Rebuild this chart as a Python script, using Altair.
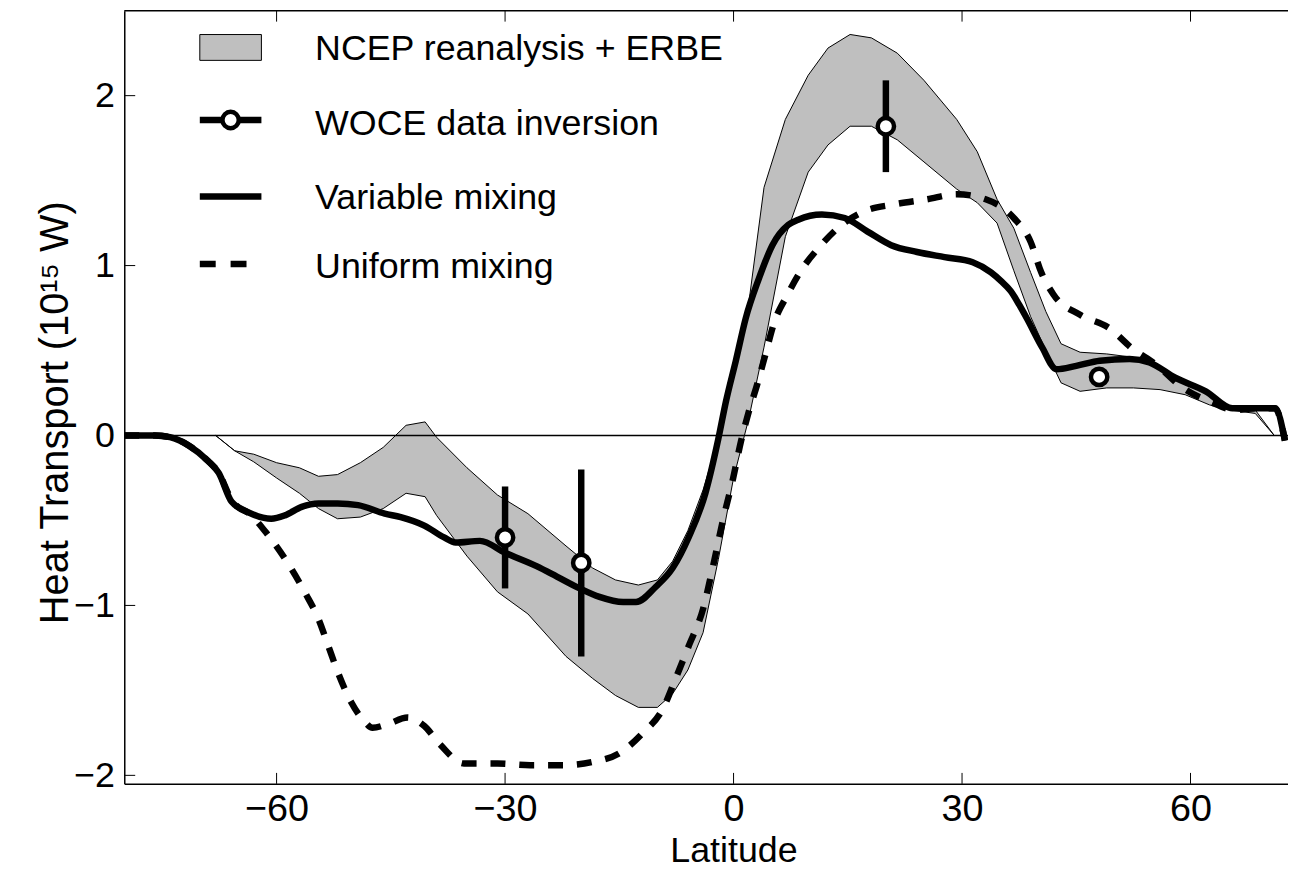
import altair as alt
import pandas as pd

# ---------------- data ----------------
band_lat = [-68, -65.5, -63, -60, -57, -54.5, -52, -49, -46, -43, -40.5, -39, -35, -31, -27, -22,
            -18.5, -15.5, -12.5, -10, -8, -6, -4, -2, 0, 2, 4, 6.8, 9.8, 12.4, 15.3, 18.1, 21.5,
            25, 29.3, 32, 34.6, 36.8, 39, 41, 43, 45.5, 49, 52.5, 56, 59.3, 62.5, 65.2, 68.5, 71]
band_upper = [0.0, -0.09, -0.11, -0.16, -0.19, -0.24, -0.23, -0.16, -0.07, 0.06, 0.08, -0.01, -0.19,
              -0.35, -0.46, -0.65, -0.78, -0.85, -0.88, -0.85, -0.74, -0.56, -0.32, -0.02, 0.35,
              0.78, 1.46, 1.86, 2.12, 2.28, 2.36, 2.34, 2.25, 2.09, 1.86, 1.67, 1.39, 1.22, 0.96,
              0.73, 0.54, 0.49, 0.48, 0.46, 0.40, 0.30, 0.25, 0.16, 0.15, 0.0]
band_lower = [0.0, -0.09, -0.155, -0.25, -0.34, -0.43, -0.49, -0.48, -0.43, -0.34, -0.36, -0.47,
              -0.71, -0.92, -1.05, -1.30, -1.43, -1.53, -1.60, -1.60, -1.52, -1.38, -1.16, -0.73,
              -0.25, 0.10, 0.52, 1.17, 1.55, 1.71, 1.82, 1.82, 1.74, 1.61, 1.45, 1.37, 1.25, 0.97,
              0.70, 0.50, 0.31, 0.26, 0.28, 0.28, 0.27, 0.24, 0.18, 0.15, 0.13, 0.0]

var_lat = [-80, -76, -74, -71.5, -69, -67.6, -65.9, -63.3, -60.7, -58.9, -56.7, -54.5, -52, -49.3,
           -45.8, -43.7, -40.6, -38, -36.5, -33.3, -30, -25.8, -23.2, -20.2, -17.6, -14.5, -12.8,
           -10.2, -8, -5.9, -3.7, -2, -1, 0.3, 1.6, 3.3, 5.1, 7.2, 8.5, 11.6, 14.6, 17.6, 20.7,
           24.1, 27.7, 31.4, 33.8, 35.1, 36.4, 37.5, 38.5, 40.5, 42.4, 45, 48.1, 52, 54.6, 58, 62,
           65.5, 68.5, 71.1, 72.4]
var_val = [0.0, 0.0, -0.01, -0.06, -0.15, -0.22, -0.39, -0.46, -0.49, -0.47, -0.42, -0.40, -0.40,
           -0.41, -0.46, -0.48, -0.53, -0.60, -0.63, -0.62, -0.69, -0.77, -0.83, -0.90, -0.95,
           -0.98, -0.98, -0.89, -0.78, -0.60, -0.34, -0.02, 0.20, 0.44, 0.69, 0.92, 1.12, 1.24,
           1.27, 1.30, 1.28, 1.20, 1.12, 1.08, 1.05, 1.02, 0.96, 0.91, 0.85, 0.77, 0.69, 0.52,
           0.39, 0.41, 0.44, 0.45, 0.43, 0.34, 0.26, 0.16, 0.16, 0.16, -0.03]

uni_lat = [-80, -76, -74, -71.5, -69, -67.6, -65.9, -63.3, -61.4, -58.4, -56.2, -54.5, -53.2,
           -51.9, -50.2, -48.5, -47.4, -45.5, -42.8, -40.6, -38.5, -35.4, -31, -26.7, -22.3,
           -18.4, -15, -11.9, -9.3, -7.6, -5.9, -4.0, -2.7, -1.4, -0.1, 1.0, 2.0, 3.1, 4.2, 5.3,
           7.1, 9.0, 11.1, 14.2, 17.2, 21.1, 25.4, 29.3, 33.1, 36.8, 39.0, 40.4, 42.0, 45.5,
           49.4, 52.4, 55.4, 59.0, 62.5, 65.9, 68.5, 71.1, 72.4]
uni_val = [0.0, 0.0, -0.01, -0.06, -0.15, -0.22, -0.38, -0.47, -0.57, -0.76, -0.93, -1.08, -1.24,
           -1.40, -1.57, -1.68, -1.72, -1.70, -1.66, -1.71, -1.82, -1.93, -1.93, -1.94, -1.94,
           -1.92, -1.87, -1.75, -1.61, -1.43, -1.24, -1.02, -0.77, -0.50, -0.26, -0.03, 0.14,
           0.30, 0.48, 0.66, 0.83, 0.98, 1.10, 1.24, 1.32, 1.36, 1.39, 1.42, 1.39, 1.28, 1.14,
           0.96, 0.83, 0.71, 0.63, 0.51, 0.42, 0.28, 0.20, 0.15, 0.16, 0.16, -0.03]

woce_lat = [-30, -20, 20, 48]
woce_val = [-0.60, -0.75, 1.82, 0.345]
woce_err = [0.30, 0.55, 0.27, 0.05]

x_ticks = [-60, -30, 0, 30, 60]
y_ticks = [-2, -1, 0, 1, 2]

legend_labels = ["NCEP reanalysis + ERBE", "WOCE data inversion", "Variable mixing", "Uniform mixing"]

# ---------------- layout ----------------
W, H = 1171, 778
FONT = "Liberation Sans"
GRAY = "#bfbfbf"
LW = 6.5
DASH = [15, 14]

xs = alt.Scale(domain=[-80, 72.8], nice=False, zero=False)
ys = alt.Scale(domain=[-2.05, 2.5], nice=False, zero=False)

band_df = pd.DataFrame({"lat": band_lat, "hi": band_upper, "lo": band_lower})
var_df = pd.DataFrame({"lat": var_lat, "v": var_val})
uni_df = pd.DataFrame({"lat": uni_lat, "v": uni_val})
woce_df = pd.DataFrame({"lat": woce_lat, "v": woce_val, "e": woce_err})
woce_df["lo"] = woce_df["v"] - woce_df["e"]
woce_df["hi"] = woce_df["v"] + woce_df["e"]
xt_df = pd.DataFrame({"lat": x_ticks})
yt_df = pd.DataFrame({"v": y_ticks})
one = pd.DataFrame({"k": [0]})
leg_df = pd.DataFrame({"label": legend_labels, "ty": [50, 125, 200, 269]})

x_axis = alt.Axis(values=x_ticks, format="d", ticks=False, grid=False, domain=True,
                  domainColor="black", domainWidth=1.5, labelFontSize=38, labelFont=FONT,
                  labelColor="black", labelPadding=7, labelFlush=False, title="Latitude",
                  titleFontSize=36, titleFont=FONT, titleFontWeight="normal", titleColor="black",
                  titleX=613, titleY=78, titleBaseline="alphabetic", titleAlign="center")
y_axis = alt.Axis(values=y_ticks, format="d", ticks=False, grid=False, domain=True,
                  domainColor="black", domainWidth=1.5, labelFontSize=36, labelFont=FONT,
                  labelColor="black", labelPadding=10, title="Heat Transport (10¹⁵ W)",
                  titleFontSize=40, titleFont=FONT, titleFontWeight="normal", titleColor="black",
                  titleX=-57, titleY=404, titleAngle=270, titleBaseline="alphabetic",
                  titleAlign="center")

band = alt.Chart(band_df).mark_area(fill=GRAY, stroke="black", strokeWidth=1, opacity=1).encode(
    x=alt.X("lat:Q", scale=xs, axis=x_axis),
    y=alt.Y("hi:Q", scale=ys, axis=y_axis),
    y2="lo:Q",
)

zero = alt.Chart(one).mark_rule(color="black", strokeWidth=1.5).encode(
    y=alt.Y("k:Q", scale=ys))

var_line = alt.Chart(var_df).mark_line(color="black", strokeWidth=LW, interpolate="monotone",
                                       strokeJoin="round", clip=True).encode(
    x=alt.X("lat:Q", scale=xs), y=alt.Y("v:Q", scale=ys))

uni_line = alt.Chart(uni_df).mark_line(color="black", strokeWidth=LW, interpolate="monotone",
                                       strokeDash=DASH, clip=True).encode(
    x=alt.X("lat:Q", scale=xs), y=alt.Y("v:Q", scale=ys))

err = alt.Chart(woce_df).mark_rule(color="black", strokeWidth=LW).encode(
    x=alt.X("lat:Q", scale=xs), y=alt.Y("lo:Q", scale=ys), y2="hi:Q")

pts = alt.Chart(woce_df).mark_point(shape="circle", filled=True, fill="white", stroke="black",
                                    strokeWidth=4.5, size=270, opacity=1).encode(
    x=alt.X("lat:Q", scale=xs), y=alt.Y("v:Q", scale=ys))

# frame: top border and inward ticks
top_border = alt.Chart(one).mark_rule(color="black", strokeWidth=1.5).encode(
    x=alt.value(0), x2=alt.value(W), y=alt.value(0))
xt_bottom = alt.Chart(xt_df).mark_rule(color="black", strokeWidth=1).encode(
    x=alt.X("lat:Q", scale=xs), y=alt.value(H - 11), y2=alt.value(H))
xt_top = alt.Chart(xt_df).mark_rule(color="black", strokeWidth=1).encode(
    x=alt.X("lat:Q", scale=xs), y=alt.value(0), y2=alt.value(11))
yt_left = alt.Chart(yt_df).mark_rule(color="black", strokeWidth=1).encode(
    y=alt.Y("v:Q", scale=ys), x=alt.value(0), x2=alt.value(11))

# legend (drawn inside the plot, top left)
leg_rect = alt.Chart(one).mark_rect(fill=GRAY, stroke="black", strokeWidth=1).encode(
    x=alt.value(76), x2=alt.value(138), y=alt.value(24), y2=alt.value(50))
leg_woce = alt.Chart(one).mark_rule(color="black", strokeWidth=LW).encode(
    x=alt.value(76), x2=alt.value(138), y=alt.value(110))
leg_woce_pt = alt.Chart(one).mark_point(shape="circle", filled=True, fill="white", stroke="black",
                                        strokeWidth=4.5, size=270, opacity=1).encode(
    x=alt.value(107), y=alt.value(110))
leg_var = alt.Chart(one).mark_rule(color="black", strokeWidth=LW).encode(
    x=alt.value(76), x2=alt.value(138), y=alt.value(187))
leg_uni = alt.Chart(one).mark_rule(color="black", strokeWidth=LW, strokeDash=[16, 15]).encode(
    x=alt.value(76), x2=alt.value(138), y=alt.value(255))
leg_text = alt.Chart(leg_df).mark_text(align="left", baseline="alphabetic", fontSize=36,
                                       font=FONT, color="black").encode(
    x=alt.value(192), y=alt.Y("ty:Q", scale=None), text="label:N")

chart = alt.layer(
    band, zero, var_line, uni_line, err, pts,
    top_border, xt_bottom, xt_top, yt_left,
    leg_rect, leg_woce, leg_woce_pt, leg_var, leg_uni, leg_text,
).properties(
    width=W, height=H,
    autosize=alt.AutoSizeParams(type="none"),
    padding={"left": 117, "top": 0, "right": 0, "bottom": 86},
).configure(font=FONT, background="white").configure_view(stroke=None)

chart.save("out.html", embed_options={"renderer": "svg", "actions": False})
